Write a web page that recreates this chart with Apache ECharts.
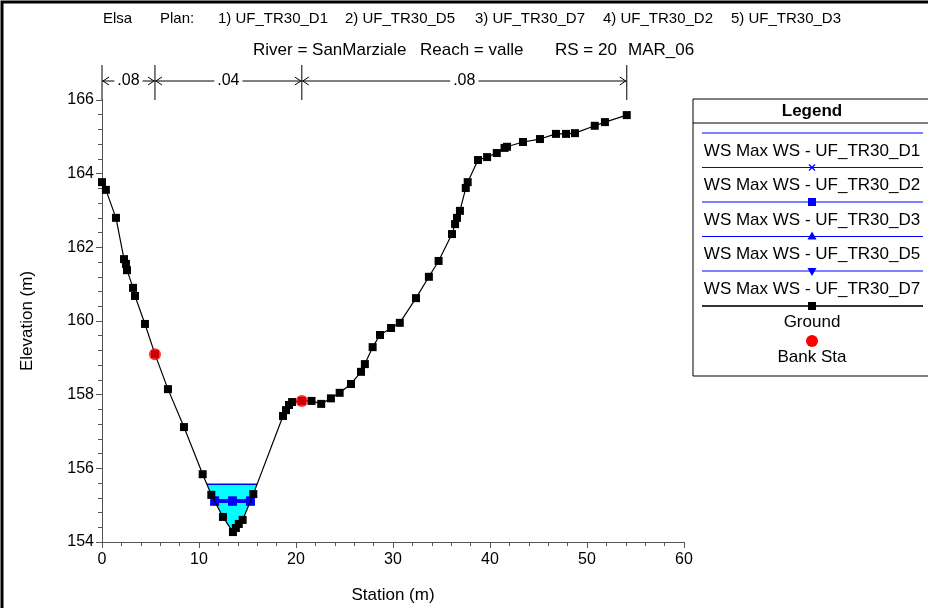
<!DOCTYPE html>
<html>
<head>
<meta charset="utf-8">
<script src="https://cdn.jsdelivr.net/npm/echarts@6/dist/echarts.min.js"></script>
<style>html,body{margin:0;padding:0;background:#fff}#c{width:928px;height:608px}</style>
</head>
<body>
<div id="c"></div>
<script>
// ---- data ----
const groundStation = [0, 0.4, 1.44, 2.27, 2.47, 2.58, 3.2, 3.4, 4.43, 5.46, 6.8, 8.45, 10.38, 11.27, 12.47, 13.5, 13.8, 14.1, 14.5, 15.6, 18.66, 18.97, 19.28, 19.6, 20.6, 21.6, 22.6, 23.6, 24.5, 25.67, 26.7, 27.1, 27.9, 28.66, 29.8, 30.7, 32.37, 33.7, 34.7, 36.08, 36.4, 36.6, 36.9, 37.5, 37.7, 38.76, 39.7, 40.7, 41.5, 41.75, 43.4, 45.15, 46.8, 47.84, 48.76, 50.8, 51.85, 54.1];
const groundElev = [163.77, 163.56, 162.80, 161.68, 161.55, 161.38, 160.90, 160.68, 159.92, 159.10, 158.15, 157.12, 155.84, 155.28, 154.68, 154.27, 154.38, 154.49, 154.60, 155.30, 157.42, 157.58, 157.72, 157.80, 157.83, 157.83, 157.75, 157.90, 158.05, 158.29, 158.62, 158.83, 159.29, 159.62, 159.81, 159.95, 160.62, 161.20, 161.63, 162.36, 162.63, 162.80, 162.99, 163.61, 163.77, 164.37, 164.45, 164.56, 164.70, 164.73, 164.86, 164.94, 165.08, 165.08, 165.10, 165.30, 165.40, 165.59];
const bankStation = [5.46, 20.6];
const bankElev = [159.10, 157.83];
const wsNames = ['WS Max WS - UF_TR30_D1', 'WS Max WS - UF_TR30_D2', 'WS Max WS - UF_TR30_D3', 'WS Max WS - UF_TR30_D5', 'WS Max WS - UF_TR30_D7'];
const wsElev = [155.57, 155.11, 155.11, 155.11, 155.11];
const nStations = [0, 5.46, 20.6, 54.1];
const nValues = ['.08', '.04', '.08'];
const titleLine1 = ['Elsa', 'Plan:', '1) UF_TR30_D1', '2) UF_TR30_D5', '3) UF_TR30_D7', '4) UF_TR30_D2', '5) UF_TR30_D3'];
const titleLine2 = ['River = SanMarziale', 'Reach = valle', 'RS = 20', 'MAR_06'];
const xTickMin = 0, xTickMax = 60, xTickStep = 10;
const yTickMin = 154, yTickMax = 166, yTickStep = 2;

// ---- derived geometry ----
function extent(level) {
  let iMin = 0;
  for (let i = 1; i < groundElev.length; i++) if (groundElev[i] < groundElev[iMin]) iMin = i;
  let l = iMin; while (l > 0 && groundElev[l - 1] < level) l--;
  let r = iMin; while (r < groundElev.length - 1 && groundElev[r + 1] < level) r++;
  const xl = groundStation[l - 1] + (level - groundElev[l - 1]) / (groundElev[l] - groundElev[l - 1]) * (groundStation[l] - groundStation[l - 1]);
  const xr = groundStation[r] + (level - groundElev[r]) / (groundElev[r + 1] - groundElev[r]) * (groundStation[r + 1] - groundStation[r]);
  return { xl, xr, l, r };
}
const topLevel = Math.max(...wsElev);
const ext = extent(topLevel);
const waterPoly = [[ext.xl, topLevel]];
for (let i = ext.l; i <= ext.r; i++) waterPoly.push([groundStation[i], groundElev[i]]);
waterPoly.push([ext.xr, topLevel]);

function wsLine(level, withMid) {
  const e = extent(level);
  return withMid ? [[e.xl, level], [(e.xl + e.xr) / 2, level], [e.xr, level]] : [[e.xl, level], [e.xr, level]];
}

const BLUE = '#0000FF';
const FONT = 'Liberation Sans, Arial, sans-serif';
const xSym = 'path://M0,1L1,0L5,4L9,0L10,1L6,5L10,9L9,10L5,6L1,10L0,9L4,5Z';
const wsSymbols = [
  { symbol: 'none', size: 0, rotate: 0 },
  { symbol: xSym, size: 8, rotate: 0 },
  { symbol: 'rect', size: 9, rotate: 0 },
  { symbol: 'triangle', size: 9, rotate: 0 },
  { symbol: 'triangle', size: 9, rotate: 180 }
];

const series = [];
series.push({
  type: 'custom', name: 'water', z: 1, silent: true,
  data: [[0, 0]],
  renderItem: function (params, api) {
    const pts = waterPoly.map(p => api.coord(p));
    return { type: 'polygon', shape: { points: pts }, style: { fill: '#00FFFF', stroke: null } };
  }
});
for (let k = wsNames.length - 1; k >= 0; k--) {
  const s = wsSymbols[k];
  series.push({
    type: 'line', name: wsNames[k], z: 3,
    data: wsLine(wsElev[k], k > 0),
    symbol: s.symbol, symbolSize: s.size, symbolRotate: s.rotate,
    showSymbol: k > 0,
    lineStyle: { color: BLUE, width: k === 0 ? 1.5 : 3 },
    itemStyle: { color: BLUE },
    silent: true
  });
}
series.push({
  type: 'line', name: 'Ground', z: 4,
  data: groundStation.map((s, i) => [s, groundElev[i]]),
  symbol: 'rect', symbolSize: 8,
  lineStyle: { color: '#000', width: 1.2 },
  itemStyle: { color: '#000' },
  silent: true
});
series.push({
  type: 'scatter', name: 'Bank Sta', z: 5,
  data: bankStation.map((s, i) => [s, bankElev[i]]),
  symbol: 'circle', symbolSize: 12,
  itemStyle: { color: '#FF0000' },
  silent: true
});
series.push({
  type: 'custom', name: 'n', z: 6, silent: true, clip: false,
  data: [[0, 0]],
  renderItem: function (params, api) {
    const children = [];
    const y0 = api.coord([0, yTickMax])[1];
    const yTop = y0 - 35, yA = y0 - 19;
    const xs = nStations.map(s => api.coord([s, yTickMax])[0]);
    xs.forEach(x => children.push({ type: 'line', shape: { x1: x, y1: yTop, x2: x, y2: y0 }, style: { stroke: '#000', lineWidth: 1 } }));
    for (let i = 0; i < nValues.length; i++) {
      const a = xs[i], b = xs[i + 1];
      children.push({ type: 'line', shape: { x1: a, y1: yA, x2: b, y2: yA }, style: { stroke: '#000', lineWidth: 1 } });
      children.push({ type: 'polyline', shape: { points: [[a + 7, yA - 4], [a + 1, yA], [a + 7, yA + 4]] }, style: { stroke: '#000', lineWidth: 1, fill: null } });
      children.push({ type: 'polyline', shape: { points: [[b - 7, yA - 4], [b - 1, yA], [b - 7, yA + 4]] }, style: { stroke: '#000', lineWidth: 1, fill: null } });
      children.push({ type: 'text', style: { x: (a + b) / 2, y: yA, text: nValues[i], align: 'center', verticalAlign: 'middle', font: '16px ' + FONT, fill: '#000', backgroundColor: '#fff', padding: [0, 3] } });
    }
    return { type: 'group', children };
  }
});

// ---- graphics: titles, legend, frame ----
const graphic = [];
graphic.push({ type: 'rect', shape: { x: 2, y: 2, width: 940, height: 620 }, style: { fill: null, stroke: '#000', lineWidth: 3 }, silent: true, z: 100 });
const t1x = [103, 160, 218, 345, 475, 603, 731];
titleLine1.forEach((t, i) => graphic.push({ type: 'text', x: t1x[i], y: 19, style: { text: t, font: '15px ' + FONT, fill: '#000', verticalAlign: 'middle' } }));
const t2x = [253, 420, 555, 628];
titleLine2.forEach((t, i) => graphic.push({ type: 'text', x: t2x[i], y: 50, style: { text: t, font: '17px ' + FONT, fill: '#000', verticalAlign: 'middle' } }));

const LX0 = 693, LX1 = 932, LCX = 812;
graphic.push({ type: 'rect', shape: { x: LX0, y: 99, width: LX1 - LX0, height: 277 }, style: { fill: '#fff', stroke: '#000', lineWidth: 1 } });
graphic.push({ type: 'text', x: LCX, y: 111, style: { text: 'Legend', font: 'bold 17px ' + FONT, fill: '#000', align: 'center', verticalAlign: 'middle' } });
graphic.push({ type: 'line', shape: { x1: LX0, y1: 123, x2: LX1, y2: 123 }, style: { stroke: '#000', lineWidth: 1 } });
const legLineX0 = 702, legLineX1 = 923;
wsNames.forEach((name, i) => {
  const ly = 133 + i * 34.5;
  graphic.push({ type: 'line', shape: { x1: legLineX0, y1: ly, x2: legLineX1, y2: ly }, style: { stroke: BLUE, lineWidth: 1.2 } });
  if (i === 1) {
    graphic.push({ type: 'line', shape: { x1: LCX - 3, y1: ly - 3, x2: LCX + 3, y2: ly + 3 }, style: { stroke: BLUE, lineWidth: 1.2 } });
    graphic.push({ type: 'line', shape: { x1: LCX - 3, y1: ly + 3, x2: LCX + 3, y2: ly - 3 }, style: { stroke: BLUE, lineWidth: 1.2 } });
  } else if (i === 2) {
    graphic.push({ type: 'rect', shape: { x: LCX - 4, y: ly - 4, width: 8, height: 8 }, style: { fill: BLUE } });
  } else if (i === 3) {
    graphic.push({ type: 'polygon', shape: { points: [[LCX, ly - 5], [LCX + 4.5, ly + 3], [LCX - 4.5, ly + 3]] }, style: { fill: BLUE } });
  } else if (i === 4) {
    graphic.push({ type: 'polygon', shape: { points: [[LCX, ly + 5], [LCX + 4.5, ly - 3], [LCX - 4.5, ly - 3]] }, style: { fill: BLUE } });
  }
  graphic.push({ type: 'text', x: LCX, y: ly + 18, style: { text: name, font: '17px ' + FONT, fill: '#000', align: 'center', verticalAlign: 'middle' } });
});
graphic.push({ type: 'line', shape: { x1: legLineX0, y1: 306, x2: legLineX1, y2: 306 }, style: { stroke: '#333', lineWidth: 2 } });
graphic.push({ type: 'rect', shape: { x: LCX - 4, y: 302, width: 8, height: 8 }, style: { fill: '#000' } });
graphic.push({ type: 'text', x: LCX, y: 322, style: { text: 'Ground', font: '17px ' + FONT, fill: '#000', align: 'center', verticalAlign: 'middle' } });
graphic.push({ type: 'circle', shape: { cx: LCX, cy: 341, r: 6 }, style: { fill: '#FF0000' } });
graphic.push({ type: 'text', x: LCX, y: 357, style: { text: 'Bank Sta', font: '17px ' + FONT, fill: '#000', align: 'center', verticalAlign: 'middle' } });

const axisCommon = {
  axisLine: { show: true, lineStyle: { color: '#555', width: 1 } },
  axisTick: { show: true, inside: false, length: 6, lineStyle: { color: '#555' } },
  minorTick: { show: true, splitNumber: 5, length: 4, lineStyle: { color: '#555' } },
  splitLine: { show: false },
  axisLabel: { color: '#000', fontSize: 16, fontFamily: FONT },
  nameTextStyle: { color: '#000', fontSize: 17, fontFamily: FONT }
};

const chart = echarts.init(document.getElementById('c'), null, { renderer: 'canvas' });
chart.setOption({
  animation: false,
  backgroundColor: '#fff',
  grid: { left: 102, right: 244, top: 100, bottom: 66, containLabel: false, outerBoundsMode: 'none' },
  xAxis: Object.assign({}, axisCommon, {
    type: 'value', min: xTickMin, max: xTickMax, interval: xTickStep,
    name: 'Station (m)', nameLocation: 'middle', nameGap: 45,
    axisLabel: Object.assign({}, axisCommon.axisLabel, { margin: 10 })
  }),
  yAxis: Object.assign({}, axisCommon, {
    type: 'value', min: yTickMin, max: yTickMax, interval: yTickStep,
    name: 'Elevation (m)', nameLocation: 'middle', nameGap: 66,
    axisLabel: Object.assign({}, axisCommon.axisLabel, { margin: 8 })
  }),
  series: series,
  graphic: graphic
});
</script>
</body>
</html>
